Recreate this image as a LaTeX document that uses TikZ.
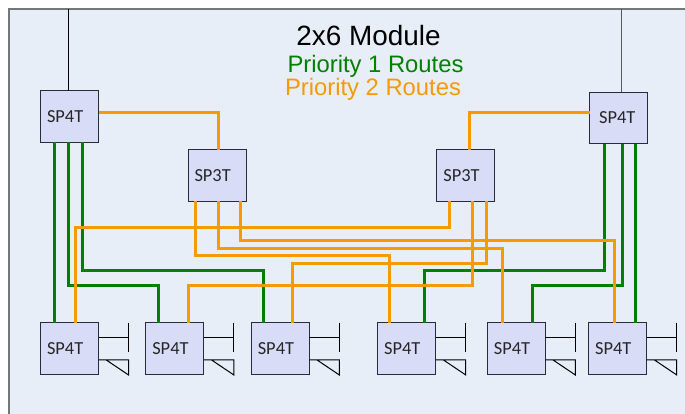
\documentclass[tikz,border=0pt]{standalone}
\usepackage{fontspec}
\setmainfont{Liberation Sans}
\newfontfamily\boxfont{Carlito}
\definecolor{panelfill}{HTML}{E8EEF8}
\definecolor{panelline}{HTML}{767676}
\definecolor{boxfill}{HTML}{D9DCF7}
\definecolor{boxline}{HTML}{2A2A3A}
\definecolor{routeone}{HTML}{008000}
\definecolor{routetwo}{HTML}{F59A00}
\tikzset{
  swbox/.style={draw=boxline,fill=boxfill,line width=0.9pt,minimum width=58pt,minimum height=51.5pt,
    inner sep=0pt,outer sep=0pt,text width=45pt,align=left,font=\boxfont\fontsize{18.4}{20}\selectfont,text=black!85},
  wirethin/.style={draw=black,line width=1pt},
  prione/.style={draw=routeone,line width=3pt,line join=miter},
  pritwo/.style={draw=routetwo,line width=3pt,line join=miter},
  titlefont/.style={font=\fontsize{27.9}{30}\selectfont,text=black,inner sep=0pt},
  legendfont/.style={font=\fontsize{23.8}{26}\selectfont,inner sep=0pt}
}
% start node, start x, run y, end node, end x
\newcommand{\routevia}[6]{\draw[#1] (#3,0 |- #2.south) -- (#3,#4) -- (#6,#4) -- (#6,0 |- #5.north);}
\newcommand{\stubpair}[1]{%
  \draw[wirethin] ([yshift=-14.7pt]#1.north east) -- ++(30,0);
  \draw[wirethin] ([xshift=30pt]#1.north east) -- ++(0,29);
  \draw[wirethin] ([yshift=-37.3pt]#1.north east) -- ++(30,0) -- ++(0,15) -- ++(-22.3,-15);
}
\newcommand{\swlabel}[2][0pt]{\hspace*{#1}\raisebox{-1.8pt}{#2}}
\begin{document}
\begin{tikzpicture}[x=1pt,y=-1pt]
\useasboundingbox (0,0) rectangle (685,414);
\fill[panelfill] (9,9) rectangle (685,414);
\draw[panelline,line width=1.2pt] (9,414) -- (9,9) -- (685,9);

\node[swbox] (SL) at (69.5,116.3) {\swlabel{SP4T}};
\node[swbox] (SR) at (618.6,117.8) {\swlabel[3pt]{SP4T}};
\node[swbox] (TL) at (217,175.6) {\swlabel{SP3T}};
\node[swbox] (TR) at (465.8,175.6) {\swlabel{SP3T}};
\node[swbox] (B1) at (69.5,348.4) {\swlabel{SP4T}};
\node[swbox] (B2) at (174.8,348.4) {\swlabel{SP4T}};
\node[swbox] (B3) at (280.3,348.4) {\swlabel{SP4T}};
\node[swbox] (B4) at (406.7,348.4) {\swlabel{SP4T}};
\node[swbox] (B5) at (516.3,348.4) {\swlabel{SP4T}};
\node[swbox] (B6) at (617.7,348.4) {\swlabel{SP4T}};

\coordinate (inL) at (68.5,9);
\coordinate (inR) at (621,9);
\draw[wirethin] (inL) -- (inL |- SL.north);
\draw[wirethin,draw=black!65] (inR) -- (inR |- SR.north);

% priority 1
\draw[prione] (54,0 |- SL.south) -- (54,0 |- B1.north);
\routevia{prione}{SL}{68.7}{285.3}{B2}{158.3}
\routevia{prione}{SL}{82.7}{270.3}{B3}{263}
\routevia{prione}{SR}{604.3}{270.3}{B4}{424}
\routevia{prione}{SR}{622}{285.3}{B5}{532.3}
\draw[prione] (635.3,0 |- SR.south) -- (635.3,0 |- B6.north);

% priority 2
\draw[pritwo] (SL.east |- 0,113) -- (218,113) -- (218,0 |- TL.north);
\draw[pritwo] (SR.west |- 0,113) -- (469.3,113) -- (469.3,0 |- TR.north);
\routevia{pritwo}{TL}{195.7}{255.3}{B4}{389.7}
\routevia{pritwo}{TL}{218}{248}{B5}{502}
\routevia{pritwo}{TL}{240}{240.3}{B6}{614}
\routevia{pritwo}{TR}{449.3}{227.7}{B1}{75.7}
\routevia{pritwo}{TR}{472}{285.7}{B2}{188.3}
\routevia{pritwo}{TR}{486.7}{263.3}{B3}{292.7}

\stubpair{B1}\stubpair{B2}\stubpair{B3}\stubpair{B4}\stubpair{B5}\stubpair{B6}

\node[titlefont] (title) at (368.5,36) {2x6 Module};
\node[legendfont,text=routeone] (leg1) at (375.5,66) {Priority 1 Routes};
\node[legendfont,text=routetwo] (leg2) at (373,89) {Priority 2 Routes};
\end{tikzpicture}
\end{document}
